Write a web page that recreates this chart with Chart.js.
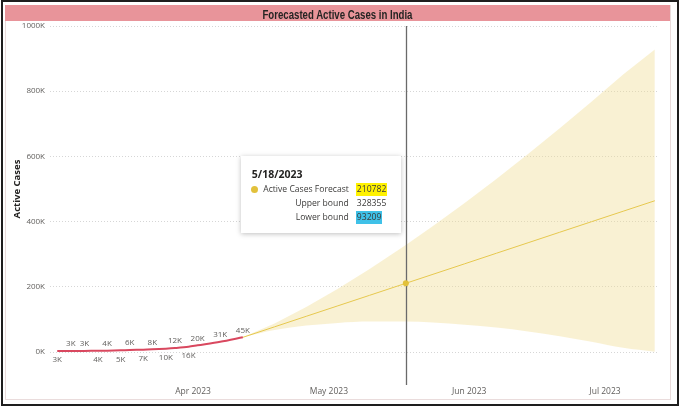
<!DOCTYPE html>
<html>
<head>
<meta charset="utf-8">
<script src="https://cdn.jsdelivr.net/npm/chart.js@4.4.0/dist/chart.umd.min.js"></script>
<style>
  html, body { margin: 0; padding: 0; background: #fff; }
  body { width: 680px; height: 407px; position: relative; overflow: hidden; font-family: "Segoe UI", "Open Sans", sans-serif; }
  #frame { position: absolute; left: 1px; top: 0; width: 674px; height: 402px; border: 2px solid #1e1e1e; }
  #panel { position: absolute; left: 5px; top: 5px; width: 664px; height: 394px; border: 1px solid #eadcdc; border-top: none; }
  #title { position: absolute; left: 5px; top: 5px; width: 665px; height: 16px; background: #e8949a;
           text-align: center; line-height: 16px; z-index: 3; }
  #title span { display: inline-block; font: bold 12px "Liberation Sans", Arial, sans-serif; color: #252423;
                transform-origin: 50% 50%; white-space: nowrap; }
  canvas { position: absolute; left: 0; top: 0; z-index: 2; }
  #tip { position: absolute; z-index: 4; background: #fff; box-shadow: 0 1px 5px rgba(0,0,0,0.25);
         width: 160px; height: 77px; font-size: 8.6px; color: #3b3a39; display: none; }
  #tip .date { position: absolute; left: 11px; top: 11px; font-weight: bold; font-size: 10.5px; color: #252423; }
  #tip .row { position: absolute; left: 0; width: 160px; height: 13px; line-height: 13px; }
  #tip .lab { position: absolute; right: 52px; white-space: nowrap; }
  #tip .val { position: absolute; left: 115px; padding: 0 1px; }
  #tip .dot { position: absolute; left: 10px; top: 3px; width: 7px; height: 7px; border-radius: 50%; background: #e2c13b; }
</style>
</head>
<body>
<div id="frame"></div>
<div id="panel"></div>
<div id="title"><span id="titleText">Forecasted Active Cases in India</span></div>
<canvas id="chart" width="680" height="407"></canvas>
<div id="tip">
  <div class="date" id="tipDate"></div>
  <div class="row" style="top:27px"><span class="dot"></span><span class="lab">Active Cases Forecast</span><span class="val" id="tipF" style="background:#fff200"></span></div>
  <div class="row" style="top:41px"><span class="lab">Upper bound</span><span class="val" id="tipU"></span></div>
  <div class="row" style="top:55px"><span class="lab">Lower bound</span><span class="val" id="tipL" style="background:#3fc1e8"></span></div>
</div>
<script>
// actual active cases
const actualDates = ["2023-03-02", "2023-03-05", "2023-03-08", "2023-03-11", "2023-03-13", "2023-03-16", "2023-03-18",
  "2023-03-21", "2023-03-23", "2023-03-26", "2023-03-28", "2023-03-31", "2023-04-02", "2023-04-07", "2023-04-12"];
const actualCases = [2800, 3100, 3300, 3800, 4200, 5100, 6300, 7000, 8100, 10300, 12200, 16000, 20400, 31200, 45000];
const labelBelow = [true, false, false, true, false, true, false, true, false, true, false, true, false, false, false];

// forecast with confidence band
const forecastDates = ["2023-04-12", "2023-04-19", "2023-04-26", "2023-05-03", "2023-05-10", "2023-05-18", "2023-05-24",
  "2023-05-31", "2023-06-07", "2023-06-14", "2023-06-21", "2023-06-28", "2023-07-05", "2023-07-12"];
const forecastCases = [45000, 77200, 109500, 141700, 173900, 210782, 238400, 270600, 302900, 335100, 367400, 399600, 431800, 464000];
const upperBound = [45000, 87300, 138000, 194100, 254600, 328355, 386600, 457400, 531000, 607300, 686100, 767400, 850900, 928000];
const lowerBound = [45000, 67200, 81000, 89300, 93300, 93209, 90300, 83900, 74800, 62900, 48600, 31800, 12800, 1000];

const tipDate = "2023-05-18";
const monthTicks = ["2023-04-01", "2023-05-01", "2023-06-01", "2023-07-01"];
const monthLabels = ["Apr 2023", "May 2023", "Jun 2023", "Jul 2023"];
const yTicks = [0, 200000, 400000, 600000, 800000, 1000000];

const origin = Date.parse("2023-04-01");
const day = s => (Date.parse(s) - origin) / 864e5;
const pts = (dates, vals) => dates.map((d, i) => ({ x: day(d), y: vals[i] }));
const tipIdx = forecastDates.indexOf(tipDate);

const uiFont = '"Segoe UI", "Open Sans", sans-serif';

// squeeze the title to a condensed look
const tt = document.getElementById("titleText");
tt.style.transform = "scaleX(" + (150 / tt.getBoundingClientRect().width) + ")";

const extras = {
  id: "extras",
  afterDatasetsDraw(chart) {
    const ctx = chart.ctx;
    // data labels on actual series
    const meta = chart.getDatasetMeta(3);
    ctx.save();
    ctx.font = "8px " + uiFont;
    ctx.fillStyle = "#605e5c";
    ctx.textAlign = "center";
    ctx.textBaseline = "middle";
    meta.data.forEach((p, i) => {
      const txt = Math.round(actualCases[i] / 1000) + "K";
      ctx.fillText(txt, p.x, labelBelow[i] ? p.y + 9 : p.y - 7);
    });
    // vertical cursor line
    const fp = chart.getDatasetMeta(2).data[tipIdx];
    ctx.strokeStyle = "#6a6a6a";
    ctx.lineWidth = 1.3;
    ctx.beginPath();
    ctx.moveTo(Math.round(fp.x) + 0.5, chart.chartArea.top);
    ctx.lineTo(Math.round(fp.x) + 0.5, 385);
    ctx.stroke();
    // hovered point
    ctx.fillStyle = "#e2c13b";
    ctx.beginPath();
    ctx.arc(fp.x, fp.y, 3, 0, Math.PI * 2);
    ctx.fill();
    ctx.restore();
    // tooltip box
    const tip = document.getElementById("tip");
    tip.style.display = "block";
    tip.style.left = (fp.x - 165) + "px";
    tip.style.top = "156px";
    const [y, m, d] = tipDate.split("-").map(Number);
    document.getElementById("tipDate").textContent = m + "/" + d + "/" + y;
    document.getElementById("tipF").textContent = forecastCases[tipIdx];
    document.getElementById("tipU").textContent = upperBound[tipIdx];
    document.getElementById("tipL").textContent = lowerBound[tipIdx];
  }
};

new Chart(document.getElementById("chart"), {
  type: "line",
  data: {
    datasets: [
      { label: "Upper bound", data: pts(forecastDates, upperBound), borderWidth: 0, pointRadius: 0,
        fill: "+1", backgroundColor: "rgba(240,222,150,0.42)", order: 3 },
      { label: "Lower bound", data: pts(forecastDates, lowerBound), borderWidth: 0, pointRadius: 0,
        fill: false, order: 3, cubicInterpolationMode: "monotone" },
      { label: "Active Cases Forecast", data: pts(forecastDates, forecastCases), borderColor: "#e6c84e",
        borderWidth: 1, pointRadius: 0, fill: false, order: 2 },
      { label: "Active Cases", data: pts(actualDates, actualCases), borderColor: "#d9485f",
        borderWidth: 2, pointRadius: 0, fill: false, tension: 0.3, order: 1 }
    ]
  },
  options: {
    responsive: false,
    animation: false,
    events: [],
    layout: { padding: { left: 12, top: 26, right: 22, bottom: 5 } },
    plugins: { legend: { display: false }, tooltip: { enabled: false } },
    scales: {
      x: {
        type: "linear",
        min: -31.6, max: 102.7,
        grid: { display: false, drawTicks: false },
        border: { display: false },
        afterBuildTicks: s => { s.ticks = monthTicks.map(t => ({ value: day(t) })); },
        afterFit: s => { s.height = 50; },
        ticks: {
          padding: 34, color: "#605e5c", font: { size: 8.5, family: uiFont },
          maxRotation: 0, autoSkip: false,
          callback: v => monthLabels[monthTicks.findIndex(t => day(t) === v)]
        }
      },
      y: {
        min: 0, max: 1000000,
        afterBuildTicks: s => { s.ticks = yTicks.map(v => ({ value: v })); },
        afterFit: s => { s.width = 38; },
        grid: { color: "#d6d6d6", drawTicks: false, lineWidth: 1 },
        border: { display: false, dash: [1, 2] },
        title: { display: true, text: "Active Cases", color: "#252423", padding: 0,
                 font: { size: 9.5, weight: "bold", family: uiFont } },
        ticks: { padding: 5, color: "#605e5c", font: { size: 8, family: uiFont },
                 callback: v => (v / 1000) + "K" }
      }
    }
  },
  plugins: [extras]
});
</script>
</body>
</html>
